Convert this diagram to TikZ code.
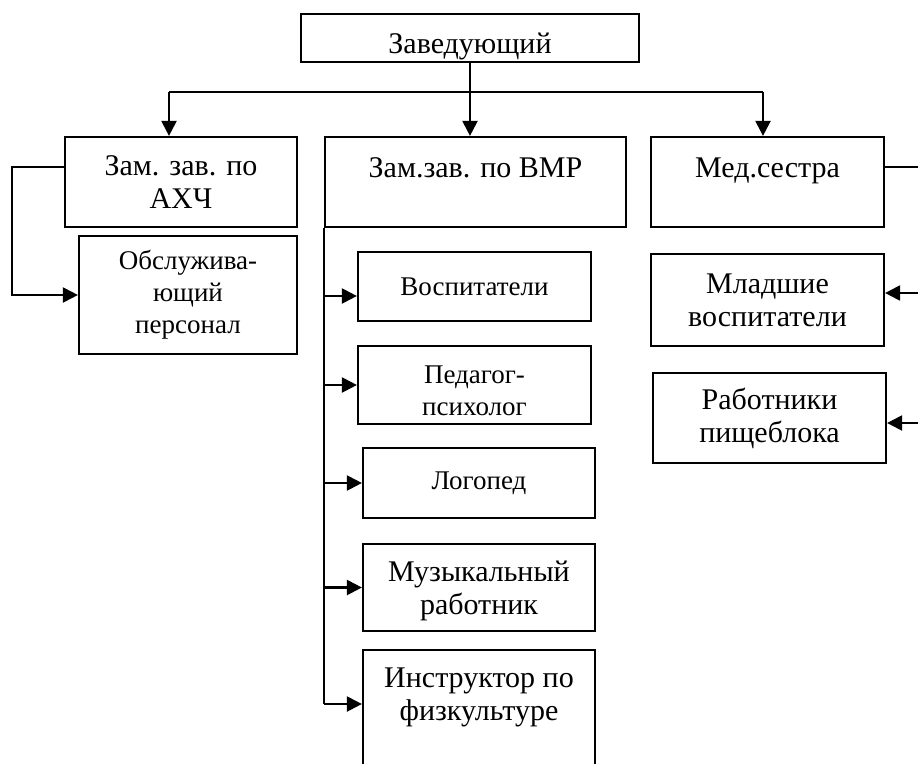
\documentclass[tikz,border=0pt]{standalone}
\usepackage{fontspec}
\setmainfont{Liberation Serif}
\usetikzlibrary{arrows.meta}

\tikzset{
  box/.style={draw, line width=2.2pt, align=center, inner sep=0pt, font=\fontsize{30}{33}\selectfont},
  small/.style={font=\fontsize{27}{32}\selectfont},
  top/.style={text depth=28pt},
  arr/.style={-{Triangle[length=15pt,width=15pt]}}
}

\begin{document}
\begin{tikzpicture}[x=1pt, y=-1pt, line width=2.2pt]
\useasboundingbox (0,0) rectangle (918,763);
\node[box, text height=36pt, text depth=6pt, minimum width=338pt, minimum height=48pt] (zav) at (470,38) {Заведующий};
\node[box, minimum width=232pt, minimum height=90pt] (axh) at (181,182) {Зам. зав. по\\АХЧ};
\node[box, top, minimum width=301pt, minimum height=90pt] (vmr) at (475.5,182) {Зам.зав. по ВМР};
\node[box, top, minimum width=233pt, minimum height=90pt] (med) at (767.5,182) {Мед.сестра};
\node[box, small, minimum width=218pt, minimum height=118pt] (obs) at (188,295) {Обслужива-\\ющий\\персонал};
\node[box, small, minimum width=233pt, minimum height=69pt] (vos) at (474.5,286.5) {Воспитатели};
\node[box, small, minimum width=233pt, minimum height=78pt] (ped) at (474.5,385) {\rule{0pt}{30pt}Педагог-\\психолог};
\node[box, small, minimum width=232pt, minimum height=70pt] (log) at (479,483) {Логопед};
\node[box, minimum width=232pt, minimum height=87pt] (muz) at (479,587.5) {\rule{0pt}{28pt}Музыкальный\\работник};
\node[box, minimum width=232pt, minimum height=124pt] (ins) at (479,712) {Инструктор по\\физкультуре\rule[-35pt]{0pt}{0pt}};
\node[box, minimum width=233pt, minimum height=92pt] (mlad) at (767.5,300) {Младшие\\воспитатели};
\node[box, minimum width=233pt, minimum height=90pt] (rab) at (769.5,418) {Работники\\пищеблока};

\coordinate (h1) at (169,92);
\coordinate (h3) at (763,92);
\coordinate (l1) at (12,167);
\coordinate (r1) at (935,167);

\draw[arr] (zav.south) -- (zav.south |- vmr.north);
\draw (h1) -- (h3);
\draw[arr] (h1) -- (h1 |- axh.north);
\draw[arr] (h3) -- (h3 |- med.north);
\draw[arr] (axh.west |- l1) -- (l1) |- (obs.west);
\draw (vmr.south west) -- ([yshift=8pt]vmr.south west |- ins.west);
\draw[arr] ([yshift=-9.5pt]vmr.south west |- vos.west) -- ([yshift=-9.5pt]vos.west);
\draw[arr] (vmr.south west |- ped.west) -- (ped.west);
\draw[arr] (vmr.south west |- log.west) -- (log.west);
\draw[arr] (vmr.south west |- muz.west) -- (muz.west);
\draw[arr] ([yshift=8pt]vmr.south west |- ins.west) -- ([yshift=8pt]ins.west);
\draw (med.east |- r1) -- (r1);
\draw[arr] (r1) |- ([yshift=7pt]mlad.east);
\draw[arr] (r1) |- ([yshift=-5pt]rab.east);
\end{tikzpicture}
\end{document}
